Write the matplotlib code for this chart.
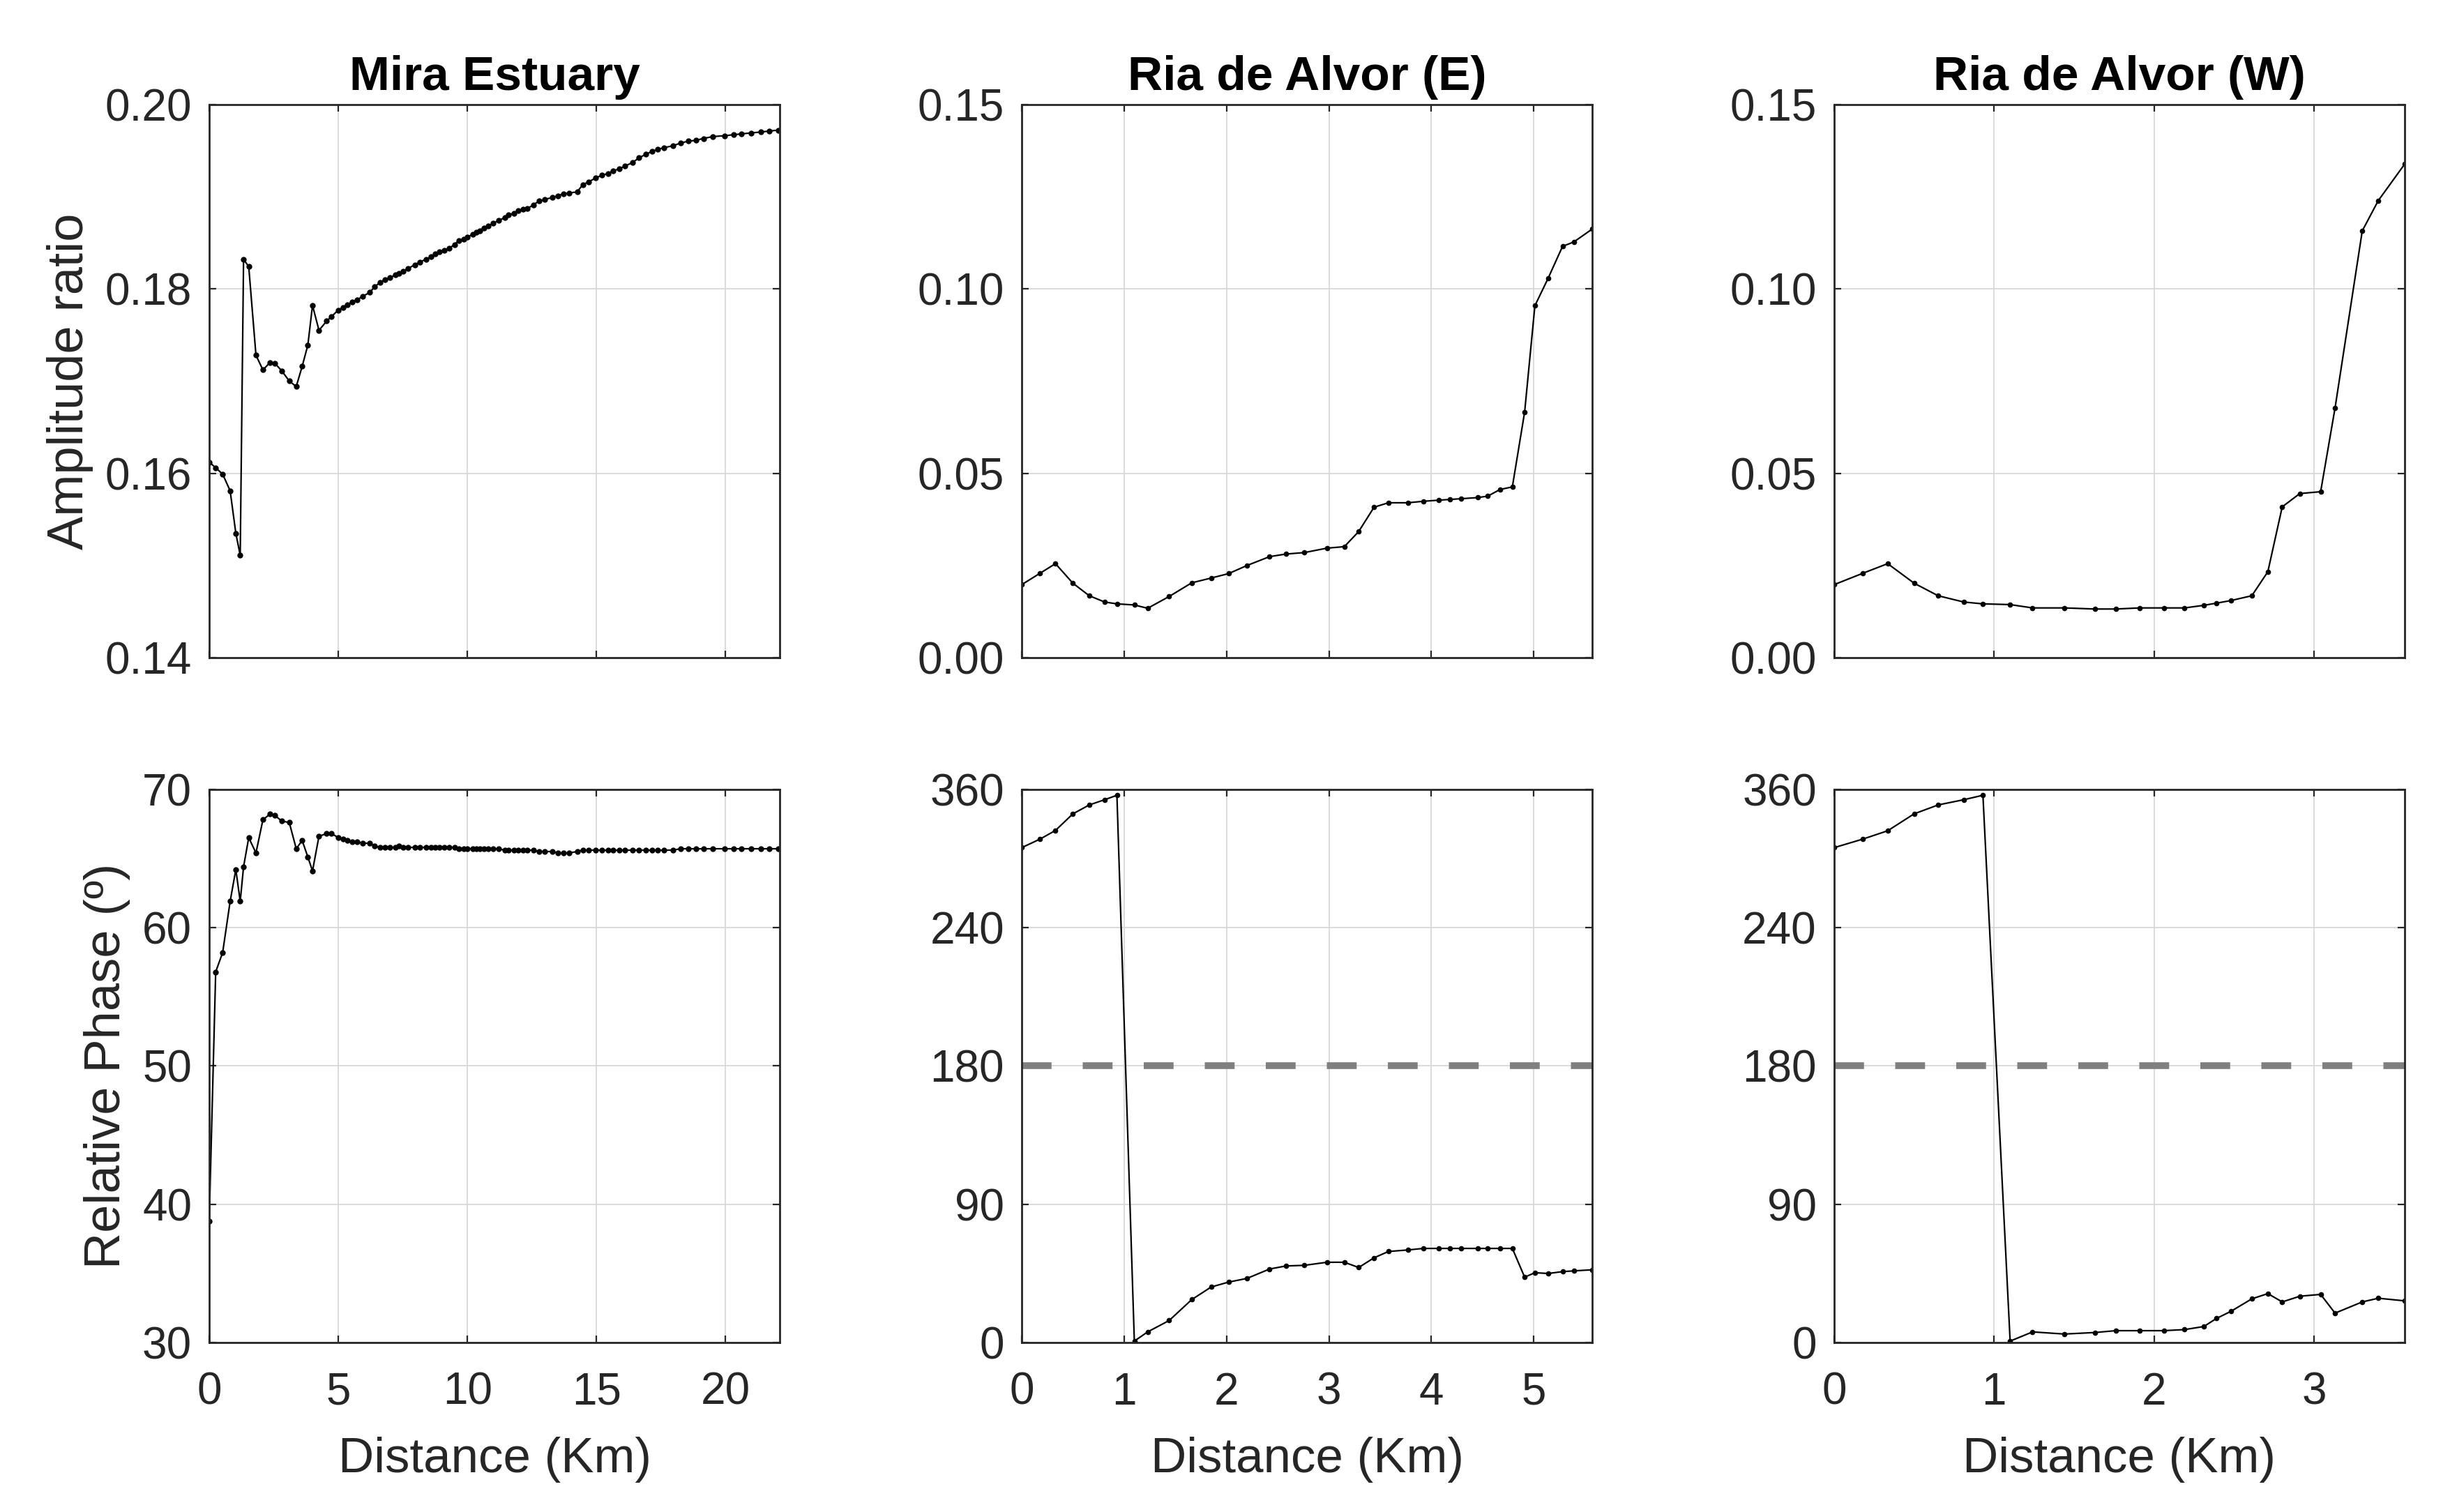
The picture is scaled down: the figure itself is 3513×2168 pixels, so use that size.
import matplotlib
matplotlib.use("Agg")
import matplotlib.pyplot as plt
from matplotlib.ticker import FormatStrFormatter

plt.rcParams['font.family'] = ['Liberation Sans', 'DejaVu Sans']

# Mira Estuary (distance in km, amplitude ratio, relative phase in degrees)
mira_x = [0, 0.25, 0.52, 0.81, 1.03, 1.20, 1.33, 1.53, 1.81, 2.08, 2.35,
          2.55, 2.81, 3.10, 3.37, 3.60, 3.82, 4.0, 4.25, 4.55, 4.74,
          5.0, 5.18, 5.36, 5.55, 5.73, 5.95, 6.22, 6.40, 6.62, 6.80,
          7.0, 7.2, 7.35, 7.5, 7.7, 7.96, 8.15, 8.4, 8.6, 8.75,
          8.92, 9.1, 9.3, 9.5, 9.66, 9.85, 10.0, 10.2, 10.35, 10.47,
          10.65, 10.8, 11.0, 11.2, 11.44, 11.6, 11.8, 11.96, 12.15, 12.33,
          12.55, 12.77, 13.0, 13.3, 13.5, 13.73, 13.95, 14.25, 14.47, 14.7,
          14.96, 15.2, 15.44, 15.65, 15.88, 16.1, 16.4, 16.65, 16.92, 17.15,
          17.36, 17.6, 17.96, 18.25, 18.55, 18.85, 19.14, 19.5, 19.96, 20.3,
          20.62, 21.0, 21.36, 21.7, 22.03]
mira_amp = [0.1612, 0.1606, 0.1599, 0.1581, 0.1535, 0.1511, 0.1832, 0.1824,
            0.1728, 0.1712, 0.1720, 0.1719, 0.1711, 0.1700, 0.1694, 0.1716,
            0.1739, 0.1782, 0.1755, 0.1765, 0.1770,
            0.1777, 0.1780, 0.1783, 0.1786, 0.1788, 0.1792, 0.1796, 0.1802, 0.1807, 0.1810,
            0.1812, 0.1815, 0.1817, 0.1819, 0.1822, 0.1826, 0.1829, 0.1832, 0.1835, 0.1838,
            0.1840, 0.1842, 0.1844, 0.1848, 0.1852, 0.1854, 0.1856, 0.1859, 0.1861, 0.1863,
            0.1866, 0.1868, 0.1871, 0.1874, 0.1877, 0.1880, 0.1882, 0.1885, 0.1886, 0.1887,
            0.1891, 0.1895, 0.1897, 0.1899, 0.1901, 0.1903, 0.1904, 0.1905, 0.1913, 0.1916,
            0.1920, 0.1923, 0.1925, 0.1928, 0.1930, 0.1933, 0.1937, 0.1942, 0.1946, 0.1949,
            0.1951, 0.1953, 0.1955, 0.1958, 0.1960, 0.1961, 0.1963, 0.1965, 0.1966, 0.1967,
            0.1968, 0.1969, 0.1970, 0.1971, 0.1972]
mira_phase = [38.8, 56.8, 58.2, 61.9, 64.2, 61.9, 64.4, 66.5, 65.4, 67.8, 68.2,
              68.1, 67.7, 67.6, 65.7, 66.3, 65.1, 64.1, 66.6, 66.8, 66.8,
              66.5, 66.4, 66.3, 66.2, 66.2, 66.1, 66.1, 65.9, 65.8, 65.8,
              65.8, 65.8, 65.9, 65.8, 65.8, 65.8, 65.8, 65.8, 65.8, 65.8,
              65.8, 65.8, 65.8, 65.8, 65.7, 65.7, 65.7, 65.7, 65.7, 65.7,
              65.7, 65.7, 65.7, 65.7, 65.6, 65.6, 65.6, 65.6, 65.6, 65.6,
              65.6, 65.5, 65.5, 65.5, 65.4, 65.4, 65.4, 65.5, 65.6, 65.6,
              65.6, 65.6, 65.6, 65.6, 65.6, 65.6, 65.6, 65.6, 65.6, 65.6,
              65.6, 65.6, 65.6, 65.7, 65.7, 65.7, 65.7, 65.7, 65.7, 65.7,
              65.7, 65.7, 65.7, 65.7, 65.7]

# Ria de Alvor, east channel
alvor_e_x = [0, 0.18, 0.33, 0.50, 0.66, 0.81, 0.93, 1.10, 1.23, 1.44, 1.66,
             1.85, 2.02, 2.20, 2.42, 2.58, 2.76, 2.98, 3.15, 3.29, 3.44, 3.58,
             3.77, 3.92, 4.07, 4.18, 4.29, 4.45, 4.55, 4.67, 4.79, 4.91, 5.01,
             5.14, 5.28, 5.39, 5.57]
alvor_e_amp = [0.0198, 0.0229, 0.0255, 0.0202, 0.0168, 0.0151, 0.0146, 0.0143,
               0.0134, 0.0166, 0.0203, 0.0216, 0.0228, 0.0250, 0.0274, 0.0281,
               0.0285, 0.0297, 0.0301, 0.0342, 0.0408, 0.0420, 0.0420, 0.0424,
               0.0427, 0.0429, 0.0431, 0.0434, 0.0438, 0.0456, 0.0463, 0.0666,
               0.0954, 0.1029, 0.1115, 0.1127, 0.1162]
alvor_e_phase = [322, 327.6, 333.2, 344, 349.8, 353.2, 356.1, 1.0, 7, 14.4, 28,
                 36.2, 39.4, 41.8, 47.9, 49.9, 50.3, 52.3, 52.3, 48.9, 55.2, 59.3,
                 60.3, 61.3, 61.3, 61.3, 61.3, 61.3, 61.3, 61.3, 61.3, 42.6, 45.5,
                 45.0, 46.2, 46.7, 47.4]

# Ria de Alvor, west channel
alvor_w_x = [0, 0.18, 0.335, 0.50, 0.65, 0.81, 0.93, 1.10, 1.24, 1.44, 1.63,
             1.76, 1.91, 2.06, 2.19, 2.31, 2.39, 2.48, 2.61, 2.71, 2.80, 2.91,
             3.04, 3.13, 3.30, 3.40, 3.565]
alvor_w_amp = [0.0198, 0.0229, 0.0255, 0.0202, 0.0168, 0.0151, 0.0146, 0.0144,
               0.0135, 0.0135, 0.0132, 0.0132, 0.0135, 0.0135, 0.0135, 0.0142,
               0.0148, 0.0155, 0.0168, 0.0233, 0.0409, 0.0445, 0.0450, 0.0677,
               0.1157, 0.1239, 0.1338]
alvor_w_phase = [322, 327.6, 333, 344, 349.8, 353.2, 356.1, 1.0, 7, 5.6, 6.6,
                 7.8, 7.8, 7.8, 8.5, 10.5, 15.8, 20.4, 28.5, 31.9, 26.5, 30.2,
                 31.4, 19.2, 26.5, 28.9, 27.2]

titles = ['Mira Estuary', 'Ria de Alvor (E)', 'Ria de Alvor (W)']
xlims = [22.1, 5.57, 3.565]
xticks = [[0, 5, 10, 15, 20], [0, 1, 2, 3, 4, 5], [0, 1, 2, 3]]
phase_ticks = [0, 90, 180, 270, 360]
phase_labels = ['0', '90', '180', '240', '360']

fig = plt.figure(figsize=(35.13, 21.68), dpi=100)
lefts = [0.0854, 0.417, 0.7486]
w, h = 0.2329, 0.366


def style(ax):
    ax.grid(True, color='#d8d8d8', linewidth=1.3)
    ax.set_axisbelow(True)
    ax.tick_params(direction='in', top=True, right=True, length=7, width=1.6,
                   labelsize=46, color='#262626', labelcolor='#262626')
    ax.tick_params(axis='x', pad=30)
    ax.tick_params(axis='y', pad=18)
    for s in ax.spines.values():
        s.set_linewidth(2.0)
        s.set_color('#262626')


datasets = [(mira_x, mira_amp, mira_phase),
            (alvor_e_x, alvor_e_amp, alvor_e_phase),
            (alvor_w_x, alvor_w_amp, alvor_w_phase)]

for i, (x, amp, ph) in enumerate(datasets):
    ax1 = fig.add_axes([lefts[i], 0.565, w, h])
    ax2 = fig.add_axes([lefts[i], 0.112, w, h])
    for ax in (ax1, ax2):
        style(ax)
        ax.set_xlim(0, xlims[i])
        ax.set_xticks(xticks[i])

    ms = 10 if i == 0 else 9
    ax1.plot(x, amp, color='black', linewidth=1.6, marker='.', markersize=ms)
    ax1.set_xticklabels([])
    ax1.set_title(titles[i], fontsize=50, fontweight='bold', pad=15)
    ax1.yaxis.set_major_formatter(FormatStrFormatter('%.2f'))

    if i == 0:
        ax1.set_ylim(0.14, 0.20)
        ax1.set_yticks([0.14, 0.16, 0.18, 0.20])
        ax1.set_ylabel('Amplitude ratio', fontsize=52, labelpad=12, color='#262626')
        ax2.set_ylim(30, 70)
        ax2.set_yticks([30, 40, 50, 60, 70])
        ax2.set_ylabel('Relative Phase (º)', fontsize=52, labelpad=12, color='#262626')
    else:
        ax1.set_ylim(0, 0.15)
        ax1.set_yticks([0, 0.05, 0.10, 0.15])
        ax2.set_ylim(0, 360)
        ax2.set_yticks(phase_ticks)
        ax2.set_yticklabels(phase_labels)
        ax2.axhline(180, color='#808080', linewidth=7, dashes=(4.4, 4.6))

    ax2.plot(x, ph, color='black', linewidth=1.6, marker='.', markersize=ms)
    ax2.set_xlabel('Distance (Km)', fontsize=51, labelpad=24, color='#262626')

fig.savefig('out.png', dpi=100, facecolor='white')
